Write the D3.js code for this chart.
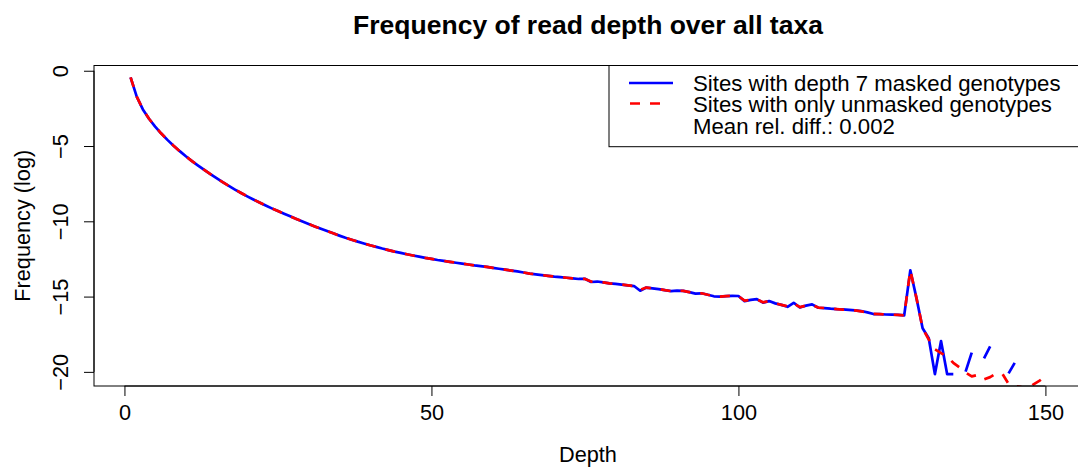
<!DOCTYPE html>
<html><head><meta charset="utf-8">
<script src="https://cdn.jsdelivr.net/npm/d3@7"></script>
<style>body{margin:0;background:#fff}svg text{font-family:"Liberation Sans",Arial,Helvetica,sans-serif;fill:#000}</style>
</head><body><svg id="c" width="1078" height="468"></svg>
<script>
const depths = d3.range(1, 151);
const masked = [
-0.44,-1.72,-2.57,-3.19,-3.71,-4.17,-4.59,-4.98,-5.34,-5.68,
-6.0,-6.3,-6.59,-6.87,-7.14,-7.4,-7.65,-7.89,-8.12,-8.34,
-8.55,-8.75,-8.95,-9.14,-9.32,-9.5,-9.67,-9.84,-10.01,-10.18,
-10.34,-10.5,-10.65,-10.8,-10.95,-11.09,-11.22,-11.35,-11.47,-11.59,
-11.7,-11.81,-11.91,-12.01,-12.1,-12.19,-12.27,-12.35,-12.43,-12.5,
-12.57,-12.63,-12.69,-12.75,-12.81,-12.87,-12.93,-12.98,-13.03,-13.09,
-13.15,-13.21,-13.27,-13.33,-13.4,-13.47,-13.52,-13.57,-13.62,-13.67,
-13.71,-13.75,-13.79,-13.83,-13.82,-14.03,-14.0,-14.06,-14.12,-14.16,
-14.2,-14.26,-14.3,-14.61,-14.4,-14.45,-14.5,-14.57,-14.64,-14.6,
-14.62,-14.7,-14.8,-14.78,-14.88,-14.98,-15.0,-14.97,-14.95,-14.96,
-15.3,-15.22,-15.17,-15.4,-15.3,-15.45,-15.55,-15.68,-15.41,-15.72,
-15.6,-15.52,-15.74,-15.76,-15.8,-15.83,-15.85,-15.88,-15.92,-15.96,
-16.05,-16.16,-16.17,-16.19,-16.2,-16.22,-16.25,-13.25,-15.1,-17.1,
-17.77,-20.15,-17.95,-20.15,-20.15,null,-19.98,-18.72,null,-19.1,
-18.3,null,null,-20.1,-19.4,null,null,null,null,null];
const unmasked = [
-0.44,-1.72,-2.57,-3.19,-3.71,-4.17,-4.59,-4.98,-5.34,-5.68,
-6.0,-6.3,-6.59,-6.87,-7.14,-7.4,-7.65,-7.89,-8.12,-8.34,
-8.55,-8.75,-8.95,-9.14,-9.32,-9.5,-9.67,-9.84,-10.01,-10.18,
-10.34,-10.5,-10.65,-10.8,-10.95,-11.09,-11.22,-11.35,-11.47,-11.59,
-11.7,-11.81,-11.91,-12.01,-12.1,-12.19,-12.27,-12.35,-12.43,-12.5,
-12.57,-12.63,-12.69,-12.75,-12.81,-12.87,-12.93,-12.98,-13.03,-13.09,
-13.15,-13.21,-13.27,-13.33,-13.4,-13.47,-13.52,-13.57,-13.62,-13.67,
-13.71,-13.75,-13.79,-13.83,-13.83,-14.0,-14.01,-14.06,-14.12,-14.16,
-14.2,-14.25,-14.3,-14.55,-14.4,-14.45,-14.5,-14.57,-14.63,-14.6,
-14.62,-14.7,-14.79,-14.78,-14.88,-14.97,-15.0,-14.97,-14.95,-14.97,
-15.27,-15.22,-15.18,-15.38,-15.3,-15.45,-15.55,-15.65,-15.45,-15.7,
-15.6,-15.55,-15.73,-15.76,-15.8,-15.83,-15.86,-15.88,-15.92,-15.98,
-16.05,-16.15,-16.17,-16.19,-16.2,-16.22,-16.25,-13.25,-15.1,-17.1,
-17.85,-18.5,-18.75,-19.0,-19.4,-19.7,-20.05,-20.3,-20.2,-20.5,
-20.35,-20.1,-20.13,-20.8,-20.95,-21.0,-21.3,-20.85,-20.6,-20.3];
const xTicks = [0, 50, 100, 150];
const yTicks = [0, -5, -10, -15, -20];
const legendLabels = ["Sites with depth 7 masked genotypes", "Sites with only unmasked genotypes", "Mean rel. diff.: 0.002"];

const svg = d3.select("#c");
const L = 94, R = 1082, T = 65.5, B = 386;
const xr = d3.extent(depths), xp = (xr[1] - xr[0]) * 0.04;
const yr = d3.extent(masked.filter(v => v != null)), yp = (yr[1] - yr[0]) * 0.04;
const x = d3.scaleLinear().domain([xr[0] - xp, xr[1] + xp]).range([L, R]);
const y = d3.scaleLinear().domain([yr[0] - yp, yr[1] + yp]).range([B, T]);

svg.append("defs").append("clipPath").attr("id", "pc").append("rect")
  .attr("x", L).attr("y", T).attr("width", R - L).attr("height", B - T);

const line = d3.line().defined(d => d[1] != null).x(d => x(d[0])).y(d => y(d[1]));
const g = svg.append("g").attr("clip-path", "url(#pc)");
g.append("path").datum(depths.map((d, i) => [d, masked[i]]))
  .attr("d", line).attr("fill", "none").attr("stroke", "#0000ff").attr("stroke-width", 2.7)
  .attr("stroke-linejoin", "round");
g.append("path").datum(depths.map((d, i) => [d, unmasked[i]]))
  .attr("d", line).attr("fill", "none").attr("stroke", "#ff0000").attr("stroke-width", 2.7)
  .attr("stroke-dasharray", "10,10").attr("stroke-linejoin", "round");

// box
svg.append("rect").attr("x", L).attr("y", T).attr("width", R - L).attr("height", B - T)
  .attr("fill", "none").attr("stroke", "#000").attr("stroke-width", 1);

// x axis
const xa = svg.append("g").attr("transform", `translate(0,${B})`)
  .call(d3.axisBottom(x).tickValues(xTicks).tickSize(10).tickPadding(0).tickFormat(d3.format("d")));
xa.select(".domain").remove();
xa.append("line").attr("x1", x(xTicks[0])).attr("x2", x(xTicks[xTicks.length-1])).attr("stroke", "#000");
xa.selectAll("text").attr("dy", null).attr("y", 34).style("font-size", "21.7px")
  .style("font-family", '"Liberation Sans",Arial,sans-serif').attr("fill", "#000");

// y axis
const ya = svg.append("g").attr("transform", `translate(${L},0)`)
  .call(d3.axisLeft(y).tickValues(yTicks).tickSize(10).tickFormat(d => d < 0 ? "\u2212" + Math.abs(d) : d));
ya.select(".domain").remove();
ya.append("line").attr("y1", y(yTicks[0])).attr("y2", y(yTicks[yTicks.length-1])).attr("stroke", "#000");
ya.selectAll(".tick text").attr("x", null).attr("dy", null)
  .attr("text-anchor", "middle").attr("transform", "translate(-26,0) rotate(-90)")
  .style("font-size", "21.7px").style("font-family", '"Liberation Sans",Arial,sans-serif').attr("fill", "#000");

// labels
svg.append("text").attr("x", (L + R) / 2).attr("y", 34).attr("text-anchor", "middle")
  .style("font-size", "26.5px").style("font-weight", "bold").text("Frequency of read depth over all taxa");
svg.append("text").attr("x", (L + R) / 2).attr("y", 462).attr("text-anchor", "middle")
  .style("font-size", "21.7px").text("Depth");
svg.append("text").attr("transform", `translate(30,${(T + B) / 2}) rotate(-90)`).attr("text-anchor", "middle")
  .style("font-size", "21.7px").text("Frequency (log)");

// legend
const lg = svg.append("g");
lg.append("rect").attr("x", 609).attr("y", T).attr("width", R - 609).attr("height", 146.7 - T)
  .attr("fill", "#fff").attr("stroke", "#000").attr("stroke-width", 1);
lg.append("line").attr("x1", 629).attr("x2", 673).attr("y1", 83).attr("y2", 83)
  .attr("stroke", "#0000ff").attr("stroke-width", 2.6);
lg.append("line").attr("x1", 630).attr("x2", 662).attr("y1", 103.5).attr("y2", 103.5)
  .attr("stroke", "#ff0000").attr("stroke-width", 2.6).attr("stroke-dasharray", "10,10");
legendLabels.forEach((t, i) => {
  lg.append("text").attr("x", 693).attr("y", 91 + i * 21.3).style("font-size", "22.2px").text(t);
});
</script></body></html>
